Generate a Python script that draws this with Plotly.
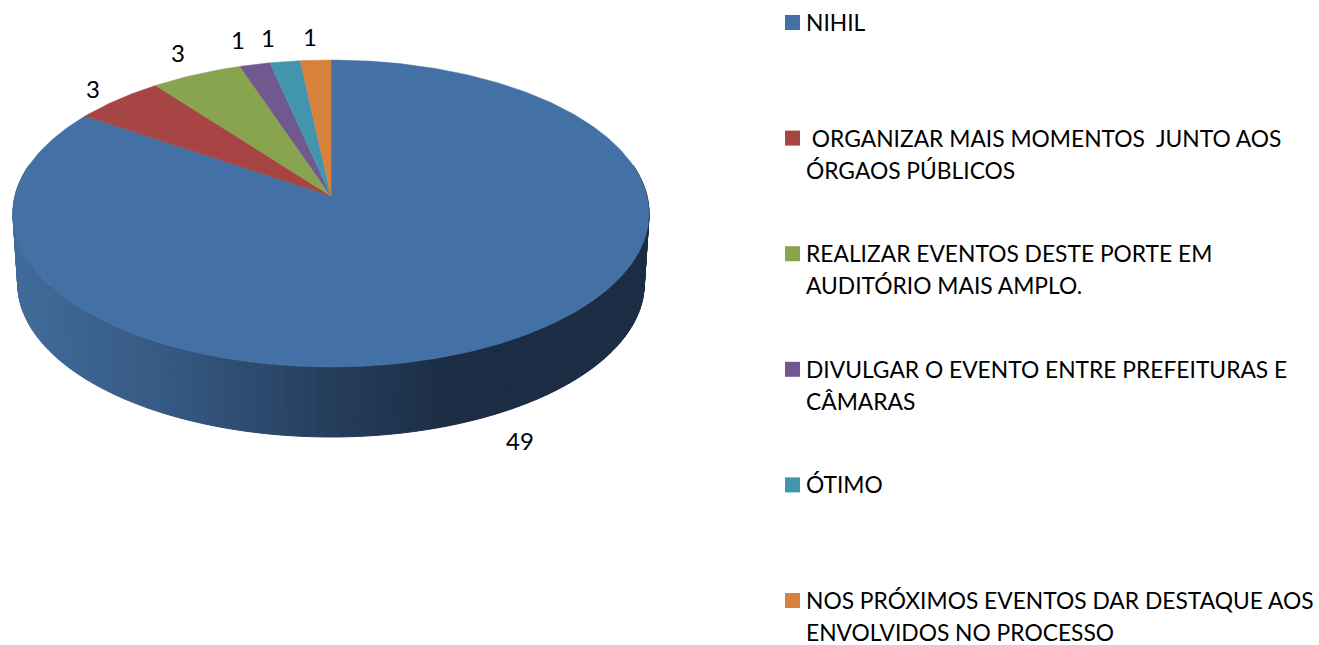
import numpy as np
import plotly.graph_objects as go

legend_lines = [
    ["NIHIL"],
    [" ORGANIZAR MAIS MOMENTOS  JUNTO AOS", "ÓRGAOS PÚBLICOS"],
    ["REALIZAR EVENTOS DESTE PORTE EM", "AUDITÓRIO MAIS AMPLO."],
    ["DIVULGAR O EVENTO ENTRE PREFEITURAS E", "CÂMARAS"],
    ["ÓTIMO"],
    ["NOS PRÓXIMOS EVENTOS DAR DESTAQUE AOS", "ENVOLVIDOS NO PROCESSO"],
]
values = [49, 3, 3, 1, 1, 1]
colors = ["#4471A5", "#A64543", "#88A44F", "#71588F", "#4196AE", "#D8813C"]

FONT = "Lato"
CX, CY, A, B, K = 331.0, 196.0, 316.0, 151.5, -0.114
DEPTH = 70.0


def project(theta, r=1.0):
    """Perspective view of a disc; theta is clockwise from the top."""
    X, Y = r * np.sin(theta), -r * np.cos(theta)
    d = 1 + K * Y
    return CX + A * X / d, CY + B * Y / d


def side_color(x):
    stops_x = [17, 170, 330, 450, 650]
    stops = [(0x42, 0x6C, 0x9A), (0x35, 0x59, 0x82), (0x26, 0x3E, 0x5D),
             (0x1B, 0x2D, 0x44), (0x1B, 0x2D, 0x44)]
    return "rgb(%d,%d,%d)" % tuple(
        int(np.interp(x, stops_x, [s[i] for s in stops])) for i in range(3))


fig = go.Figure()

# side wall, as thin shaded strips
edges = np.radians(np.linspace(78, 282, 161))
for t0, t1 in zip(edges[:-1], edges[1:]):
    ts = np.array([t0, t1])
    x, y = project(ts)
    xb = CX + (x - CX) * 0.985
    px = [x[0], x[1], xb[1], xb[0], x[0]]
    py = [y[0], y[1], y[1] + DEPTH, y[0] + DEPTH, y[0]]
    c = side_color(float(np.mean(xb)))
    fig.add_trace(go.Scatter(x=px, y=py, mode="lines", fill="toself", fillcolor=c,
                             line=dict(color=c, width=1), showlegend=False, hoverinfo="skip"))

# top face
total = sum(values)
cum = np.cumsum([0] + values)
for i, v in enumerate(values):
    ts = 2 * np.pi * np.linspace(cum[i], cum[i + 1], max(4, int(v * 8) + 1)) / total
    x, y = project(ts)
    fig.add_trace(go.Scatter(
        x=np.r_[CX, x, CX], y=np.r_[CY, y, CY], mode="lines", fill="toself",
        fillcolor=colors[i], line=dict(color=colors[i], width=0.5),
        name=" ".join(legend_lines[i]).strip(), showlegend=False, hoverinfo="name"))

# data labels
label_r = 1.19
shifts = [(-11, -64), (12, -6), (4, 1), (-4, 3), (-9, 2), (-3, 1)]
annotations = []
for i, v in enumerate(values):
    th = 2 * np.pi * (cum[i] + v / 2) / total
    x, y = project(th, label_r)
    annotations.append(dict(x=x, y=y, xref="x", yref="y", text=str(v), showarrow=False,
                            xshift=shifts[i][0], yshift=shifts[i][1],
                            font=dict(family=FONT, size=24, color="#000000")))

# legend: swatch on the first line of each entry
LEG_TOP, LEG_STEP, LINE_H = 22.5, 115.6, 32.0
LEG_SW_X, LEG_TXT_X = 785, 806
shapes = []
for i, lines in enumerate(legend_lines):
    y0 = LEG_TOP + i * LEG_STEP
    shapes.append(dict(type="rect", xref="x", yref="y", x0=LEG_SW_X, x1=LEG_SW_X + 15,
                       y0=y0 - 7.5, y1=y0 + 7.5, fillcolor=colors[i], line=dict(width=0)))
    for j, line in enumerate(lines):
        annotations.append(dict(x=LEG_TXT_X, y=y0 + j * LINE_H - 0.5, xref="x", yref="y", text=line,
                                xanchor="left", yanchor="middle", showarrow=False, xshift=-2,
                                font=dict(family=FONT, size=22.8, color="#000000")))

fig.update_layout(
    width=1319, height=645, margin=dict(l=0, r=0, t=0, b=0),
    paper_bgcolor="white", plot_bgcolor="white", showlegend=False,
    font=dict(family=FONT, size=23, color="#000000"),
    xaxis=dict(range=[0, 1319], visible=False, fixedrange=True),
    yaxis=dict(range=[645, 0], visible=False, fixedrange=True),
    annotations=annotations, shapes=shapes,
)
fig.write_html(
    "out.html",
    config={"displayModeBar": False},
    post_script="document.body.style.margin='0';"
                "document.documentElement.style.overflow='hidden';"
                "Plotly.relayout(document.querySelector('.plotly-graph-div'),"
                "{width:1319,height:645});",
)
